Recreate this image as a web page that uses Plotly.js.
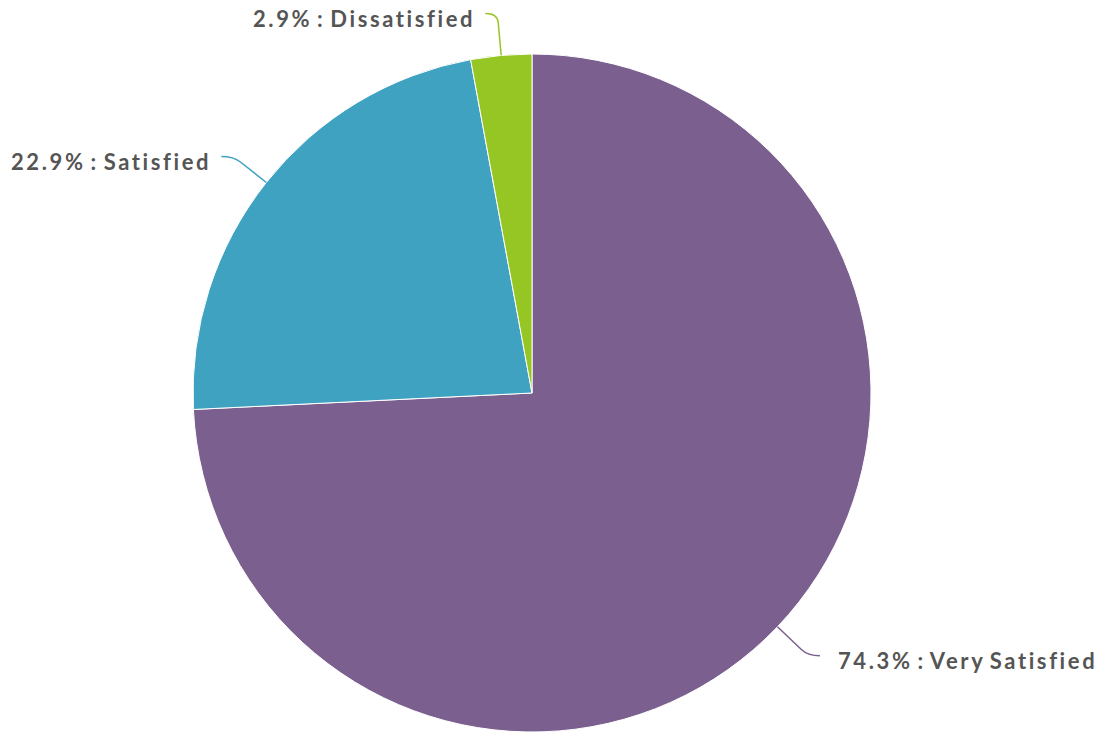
<!DOCTYPE html>
<html>
<head>
<meta charset="utf-8">
<script src="https://cdn.plot.ly/plotly-3.0.1.min.js"></script>
<style>
html,body{margin:0;padding:0;background:#fff;}
#chart{width:1106px;height:736px;}
.annotation-text{letter-spacing:2.6px;word-spacing:-3px;}
</style>
</head>
<body>
<div id="chart"></div>
<script>
const categories = ["Very Satisfied", "Satisfied", "Dissatisfied"];
const percentValues = [74.3, 22.9, 2.9];
const labelTexts = ["74.3% : Very Satisfied", "22.9% : Satisfied", "2.9% : Dissatisfied"];
const sliceColors = ["#7B5F8E", "#40A2C1", "#95C623"];

const W = 1106, H = 736;
const cx = 532, cy = 393, R = 339;

const trace = {
  type: "pie",
  labels: categories,
  values: percentValues,
  sort: false,
  direction: "clockwise",
  rotation: 0,
  textinfo: "none",
  hoverinfo: "label+percent",
  marker: {colors: sliceColors, line: {color: "#ffffff", width: 1}},
  domain: {x: [(cx - R) / W, (cx + R) / W], y: [(H - cy - R) / H, (H - cy + R) / H]},
  showlegend: false
};

const total = percentValues.reduce((a, b) => a + b, 0);
const shapes = [], annotations = [];
let cum = 0;
const px = x => x / W, py = y => 1 - y / H;
percentValues.forEach((v, i) => {
  const mid = (cum + v / 2) / total * 2 * Math.PI;
  cum += v;
  const s = Math.sin(mid), c = -Math.cos(mid);
  const L = 42, hLen = 12;
  const x0 = cx + R * s, y0 = cy + R * c;
  const x1 = cx + (R + L) * s, y1 = cy + (R + L) * c;
  const xa = cx + (R + L - 9) * s, ya = cy + (R + L - 9) * c;
  const side = s >= 0 ? 1 : -1;
  const x2 = x1 + side * hLen, y2 = y1;
  shapes.push({
    type: "path", xref: "paper", yref: "paper",
    path: `M ${px(x0)},${py(y0)} L ${px(xa)},${py(ya)} Q ${px(x1)},${py(y1)} ${px(x2)},${py(y2)}`,
    line: {color: sliceColors[i], width: 1.5}
  });
  annotations.push({
    xref: "paper", yref: "paper",
    x: px(x2 + side * (side > 0 ? 16 : 8)), y: py(y2 + 5),
    xanchor: side > 0 ? "left" : "right", yanchor: "middle",
    text: labelTexts[i], showarrow: false,
    font: {family: "Lato", size: 22, color: "#555555", weight: "bold"}
  });
});

const layout = {
  width: W, height: H,
  margin: {l: 0, r: 0, t: 0, b: 0},
  paper_bgcolor: "#ffffff",
  shapes: shapes,
  annotations: annotations,
  font: {family: "Lato"}
};
Plotly.newPlot("chart", [trace], layout, {displayModeBar: false, responsive: false});
</script>
</body>
</html>
